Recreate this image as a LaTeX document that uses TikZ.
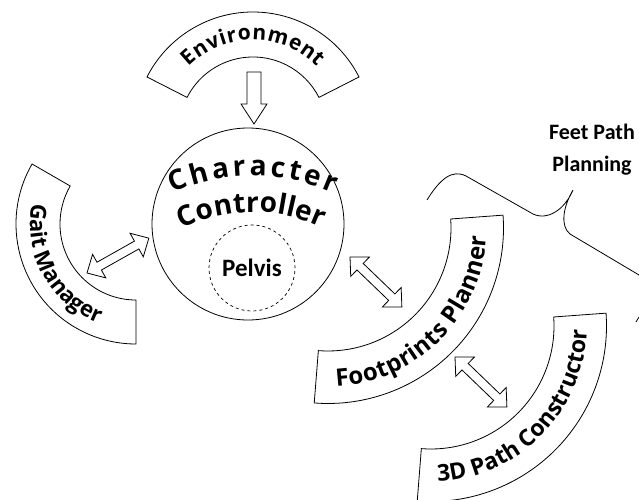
\documentclass[tikz,border=0pt]{standalone}
\usepackage{fontspec}
\usetikzlibrary{decorations.text}
\newfontfamily\arcfont{Open Sans}
\newfontfamily\calfont{Carlito}
\tikzset{
  bandline/.style={draw=black, line width=0.8pt, fill=white},
  arrowline/.style={draw=black, line width=0.8pt, fill=white},
  pics/band/.style n args={4}{code={\draw[bandline] (#1:#4) arc[start angle=#1, end angle=#2, radius=#4] -- (#2:#3) arc[start angle=#2, end angle=#1, radius=#3] -- cycle;}},
  pics/dblarrow/.style={code={\draw[arrowline] (0,0) -- (14,13.5) -- (14,4.5) -- ({#1-14},4.5) -- ({#1-14},13.5) -- (#1,0) -- ({#1-14},-13.5) -- ({#1-14},-4.5) -- (14,-4.5) -- (14,-13.5) -- cycle;}},
  arctext/.style 2 args={decorate, decoration={text along path, text={|\arcfont\bfseries\fontsize{#1}{#1}\selectfont|#2}, text align={fit to path}}},
}
\begin{document}
\begin{tikzpicture}[x=1pt,y=1pt]
\useasboundingbox (0,0) rectangle (639,499);
\clip (0,0) rectangle (639,499);

% Environment band
\begin{scope}[shift={(253,368)}]
  \pic (env) at (0,0) {band={27}{153}{74}{119}};
  \path[arctext={21}{Environment}] (135:91) arc[start angle=135, end angle=45, radius=91];
\end{scope}
% Environment arrow
\coordinate (envtip) at (254,375);
\draw[arrowline] (247,427) -- (261,427) -- (261,395) -- (267,395) -- (envtip) -- (241,395) -- (247,395) -- cycle;

% Character controller
\node[circle, draw, line width=0.8pt, minimum size=192pt, inner sep=0pt] (cc) at (248,275) {};
\begin{scope}[shift={(253,125)}]
  \path[arctext={28}{Character}] (114:198) arc[start angle=114, end angle=66, radius=198];
  \path[arctext={28}{Controller}] (116:162) arc[start angle=116, end angle=65, radius=162];
\end{scope}
\node[circle, draw, dashed, line width=0.7pt, minimum size=86pt, inner sep=0pt,
      font=\calfont\bfseries\fontsize{25}{25}\selectfont] (pelvis) at (252,231) {Pelvis};

% Gait Manager band
\begin{scope}[shift={(136,275)}]
  \pic (gait) at (0,0) {band={150}{270}{76}{120}};
  \path[arctext={22}{Gait Manager}] (169:106) arc[start angle=169, end angle=248, radius=106];
\end{scope}
\coordinate (ga1) at (87,226);
\pic[rotate=29.4] at (ga1) {dblarrow=71};

% Footprints Planner band
\begin{scope}[shift={(328,271)}]
  \pic (foot) at (0,0) {band={-94.5}{4.2}{123}{175.5}};
  \path[arctext={24}{Footprints Planner}] (-87:159) arc[start angle=-87, end angle=-3, radius=159];
\end{scope}
\coordinate (fa1) at (350,242);
\pic[rotate=-43.9] at (fa1) {dblarrow=72};

% 3D Path Constructor band
\begin{scope}[shift={(431,173)}]
  \pic (path3d) at (0,0) {band={-94.5}{4.2}{123}{175.5}};
  \path[arctext={23}{3D Path Constructor}] (-87.5:156) arc[start angle=-87.5, end angle=-1.5, radius=156];
\end{scope}
\coordinate (pa1) at (455,142);
\pic[rotate=-43.9] at (pa1) {dblarrow=72};

% Feet Path Planning brace
\node[align=center, font=\calfont\bfseries\fontsize{22}{32}\selectfont] (feet) at (592,349) {Feet Path\\Planning};
\coordinate (b0) at (427,299);
\coordinate (btip) at (573,309);
\coordinate (bend) at (639,224);
\draw[line width=0.8pt] (b0) .. controls (440,320) and (452,330) .. (466,323) -- (533,285)
  .. controls (548,278) and (565,290) .. (btip)
  .. controls (563,292) and (560,273) .. (570,265) -- (bend);
\draw[line width=0.8pt] (636,177) -- (639,182);
\end{tikzpicture}
\end{document}
